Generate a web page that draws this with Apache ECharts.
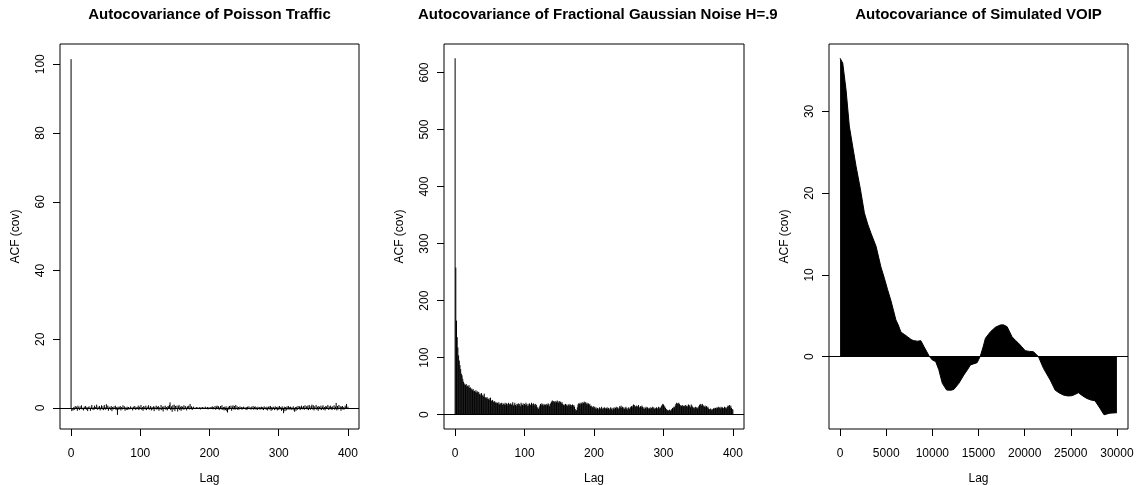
<!DOCTYPE html>
<html><head><meta charset="utf-8">
<script src="https://cdn.jsdelivr.net/npm/echarts@6/dist/echarts.min.js"></script>
<style>html,body{margin:0;padding:0;background:#fff}#c{width:1138px;height:485px}</style>
</head><body><div id="c"></div>
<script>
const titles = ['Autocovariance of Poisson Traffic', 'Autocovariance of Fractional Gaussian Noise H=.95', 'Autocovariance of Simulated VOIP'];
const xName = 'Lag';
const yName = 'ACF (cov)';

// Panel 1: Poisson traffic autocovariance, lags 0..400
const poissonAcf = [101.5,
-0.9,-0.4,-0.7,0.3,-0.5,0.6,-0.2,0.4,-0.8,0.7,0.2,-0.6,0.5,-0.3,0.8,-0.4,0.1,-0.7,0.4,-0.2,
0.6,-0.5,0.3,-0.9,0.2,0.5,-0.3,-0.8,0.4,0.9,-0.4,0.2,-0.6,0.7,0.3,-0.2,1.0,-0.5,0.4,-0.3,
0.6,-0.7,0.2,0.8,-0.4,0.5,-0.6,0.9,0.3,-0.5,1.1,-0.3,0.7,-0.8,0.4,0.2,-0.5,0.6,-0.9,0.3,
-0.4,0.5,-0.2,0.7,-0.6,0.3,-2.0,0.4,-0.5,0.2,0.6,-0.7,0.3,-0.4,0.8,-0.3,0.5,-0.8,0.2,-0.5,
0.4,-0.6,0.3,0.1,-0.4,0.5,-0.3,0.2,-0.7,0.4,-0.2,0.6,-0.5,0.3,-0.4,0.2,0.7,-0.6,0.4,-0.3,
0.9,-0.5,0.3,-0.8,0.6,0.2,-0.4,0.7,-0.6,0.4,-0.3,0.8,-0.5,0.2,0.6,-0.7,0.3,-0.4,0.5,-0.9,
0.4,-0.3,0.7,-0.5,0.3,0.6,-0.8,0.2,-0.4,0.9,-0.6,0.4,-1.0,0.5,-0.3,0.7,-0.5,0.3,-0.7,0.6,
0.4,0.9,1.65,-0.6,0.5,-1.1,0.8,-0.4,1.0,-0.9,0.6,-0.3,0.7,-1.0,0.5,0.9,-0.6,0.4,-0.8,0.6,
0.3,-0.5,0.8,-0.4,0.6,0.2,-0.7,0.5,0.3,0.7,-0.4,1.2,-0.3,0.5,-0.6,0.2,0.4,-0.3,0.1,-0.2,
0.3,-0.2,0.2,-0.3,0.1,0.3,-0.4,0.2,-0.1,0.3,-0.3,0.2,-0.2,0.4,-0.3,0.1,0.3,-0.4,0.2,-0.2,
0.3,-0.3,0.2,0.5,-0.4,0.3,-0.2,0.6,-0.5,0.4,0.7,-0.3,0.5,-0.6,0.2,0.6,-0.4,0.8,-0.5,0.3,
-0.7,0.4,-0.6,0.5,-0.9,-1.3,0.4,-0.5,0.6,-0.3,0.7,-0.8,0.4,0.8,-0.4,0.6,-0.5,0.9,-0.3,0.5,
-0.6,0.3,-0.4,0.5,-0.2,0.3,-0.5,0.2,0.4,-0.3,0.2,-0.4,0.3,-0.6,0.4,-0.2,0.5,-0.3,0.2,-0.5,
0.4,-0.3,0.6,-0.5,0.3,0.5,-0.4,0.2,-0.6,0.4,-0.3,0.3,-0.5,0.2,0.4,-0.4,0.3,-0.6,0.5,-0.3,
0.2,-0.5,0.4,-0.7,0.3,0.5,-0.4,0.6,-0.8,0.3,-0.5,0.4,0.2,-0.6,0.5,-0.4,0.3,-0.7,0.4,-0.5,
0.6,-0.4,0.3,-0.8,0.5,-0.6,-1.5,0.4,-0.9,0.3,-0.7,0.5,-0.4,0.6,-0.5,0.3,0.4,-0.6,0.2,-0.4,
0.5,-0.7,-1.1,0.3,-0.8,0.4,-0.5,0.6,-0.3,0.5,-0.6,0.4,0.7,-0.4,0.3,0.6,-0.5,0.8,-0.3,0.5,
-0.4,0.7,-0.6,0.9,0.4,-0.5,0.6,1.0,-0.4,0.8,-0.7,0.5,-0.3,0.9,-0.5,0.4,-0.8,0.6,0.3,-0.4,
0.7,-0.6,0.4,0.8,-0.5,0.3,-0.7,0.6,0.4,-0.3,0.9,-0.5,0.5,-0.4,0.7,0.3,-0.6,0.5,-0.3,0.8,
-0.5,0.4,1.5,-0.7,0.6,-0.4,0.9,-0.3,0.5,-0.8,0.4,0.6,-0.5,0.3,-0.4,0.7,0.2,1.2,-0.3,0.4];

// Panel 2: fractional Gaussian noise autocovariance, lags 0..400
const fgnAcf = [
625,258,165,136,118,104,95,87,80,72,
69,63,58,55,53,52,54,50,51,49,
52,47,48,44,46,43,45,41,42,40,
43,39,41,38,40,36,37,34,38,33,
35,32,37,31,30,29,31,28,27,29,
26,30,25,24,26,23,22,24,21,22,
20,21,19,22,18,20,19,21,17,20,
19,18,21,17,20,19,16,21,18,19,
20,17,19,22,16,18,21,17,15,19,
18,20,16,19,15,21,18,17,20,16,
19,17,21,18,15,19,16,20,18,17,
21,19,16,20,18,15,19,17,14,12,
10,13,16,19,17,20,18,16,19,17,
18,16,19,17,20,18,15,19,21,23,
25,22,24,23,21,24,22,25,23,21,
24,22,23,20,22,19,17,18,16,19,
17,18,15,17,19,16,18,17,16,18,
15,17,14,10,7,8,13,18,20,19,
21,18,20,22,19,21,23,20,22,19,
21,18,20,17,19,15,16,14,13,15,
12,14,11,13,10,12,9,11,13,10,
12,14,11,9,12,13,10,12,11,13,
10,12,9,11,13,10,12,8,11,13,
10,12,14,11,13,10,12,15,13,16,
12,14,11,13,10,12,14,11,9,12,
13,10,12,14,15,13,16,18,17,15,
14,16,13,15,17,14,12,15,13,16,
14,11,13,10,12,14,11,13,10,12,
11,13,10,12,14,11,13,10,12,11,
13,10,12,14,11,13,12,15,17,19,
18,16,14,12,10,9,8,7,8,9,
7,8,10,12,11,14,13,16,19,21,
20,18,21,19,17,16,15,17,16,15,
16,14,17,15,16,14,18,17,15,13,
18,16,14,12,13,11,14,12,13,11,
13,15,17,19,18,16,19,17,15,14,
16,13,15,12,14,11,10,9,11,8,
10,9,11,12,10,12,11,13,12,14,
12,13,11,14,12,13,11,12,14,12,
13,11,14,16,15,17,13,16,12,10,
9];

// Panel 3: simulated VOIP autocovariance (lag, value)
const voipLags = [0,290,650,1000,1400,1730,2200,2630,3000,3350,
3900,4420,4800,5150,5500,5800,6050,6300,6600,7000,
7300,7700,8000,8400,8750,9100,9400,9650,10000,10360,
10700,11080,11550,12000,12330,12870,13410,13800,14130,14850,
15200,15500,15750,16300,16830,17370,17700,18100,18630,19000,
19350,19700,20070,20500,20960,21500,22040,22770,23300,23700,
24200,24700,25110,25500,25820,26300,26730,27200,27620,28160,
28600,29240,30000];
const voipAcf = [36.5,35.9,32.6,28.2,25.5,23.3,20.5,17.6,16.2,15.1,
13.5,11.0,9.6,8.2,6.9,5.6,4.5,3.9,3.0,2.7,
2.45,2.1,1.96,1.9,1.96,1.22,0.6,0.08,-0.4,-0.6,
-1.6,-3.26,-4.08,-4.1,-4.0,-3.26,-2.24,-1.6,-1.0,-0.73,
0.08,1.2,2.25,3.06,3.6,3.88,3.9,3.67,2.45,2.0,
1.64,1.2,0.74,0.65,0.61,0.0,-1.42,-2.85,-4.08,-4.4,
-4.69,-4.8,-4.77,-4.6,-4.4,-4.8,-5.1,-5.3,-5.38,-6.3,
-7.1,-6.9,-6.85];

const xTicks1 = [0,100,200,300,400];
const yTicks1 = [0,20,40,60,80,100];
const xTicks2 = [0,100,200,300,400];
const yTicks2 = [0,100,200,300,400,500,600];
const xTicks3 = [0,5000,10000,15000,20000,25000,30000];
const yTicks3 = [0,10,20,30];

const FONT = 'Liberation Sans, Arial, Helvetica, sans-serif';
const plain = v => String(v);

function xAxisDef(idx, min, max, ticks) {
  return {
    type: 'value', gridIndex: idx, min: min, max: max,
    name: xName, nameLocation: 'middle', nameGap: 44,
    nameTextStyle: {color: '#000', fontSize: 12, fontFamily: FONT},
    axisLine: {show: false, onZero: false},
    axisTick: {show: true, inside: false, length: 7, customValues: ticks, lineStyle: {color: '#000', width: 1}},
    axisLabel: {show: true, customValues: ticks, formatter: plain, margin: 19, color: '#000', fontSize: 12, fontFamily: FONT},
    splitLine: {show: false}
  };
}
function yAxisDef(idx, min, max, ticks) {
  return {
    type: 'value', gridIndex: idx, min: min, max: max,
    name: yName, nameLocation: 'middle', nameGap: 38, nameRotate: 90,
    nameTextStyle: {color: '#000', fontSize: 12, fontFamily: FONT},
    axisLine: {show: false, onZero: false},
    axisTick: {show: true, inside: false, length: 7, customValues: ticks, lineStyle: {color: '#000', width: 1}},
    axisLabel: {show: true, customValues: ticks, formatter: plain, rotate: 90, margin: 13, color: '#000', fontSize: 12, fontFamily: FONT},
    splitLine: {show: false}
  };
}

function renderH(params, api) {
  const x = api.value(0), y = api.value(1);
  const p0 = api.coord([x, 0]);
  const p1 = api.coord([x, y]);
  return {type: 'line', shape: {x1: p0[0], y1: p0[1], x2: p1[0], y2: p1[1]}, style: {stroke: '#000', lineWidth: 1}};
}

const zeroLine = {
  silent: true, symbol: ['none', 'none'], label: {show: false}, animation: false,
  lineStyle: {color: '#000', width: 1, type: 'solid'},
  emphasis: {disabled: true},
  data: [{yAxis: 0}]
};

const titleStyle = {fontSize: 15, fontWeight: 'bold', color: '#000', fontFamily: FONT};
const gridBase = {top: 44, height: 385, show: true, borderColor: '#000', borderWidth: 1, backgroundColor: 'transparent', containLabel: false, outerBoundsMode: 'none'};

const chart = echarts.init(document.getElementById('c'), null, {renderer: 'canvas'});
chart.setOption({
  animation: false,
  backgroundColor: '#fff',
  title: [
    {text: titles[0], left: 209.5, textAlign: 'center', top: 7, padding: 0, textStyle: titleStyle},
    {text: titles[1], left: 418, textAlign: 'left', top: 7, padding: 0, textStyle: Object.assign({}, titleStyle, {width: 363, overflow: 'truncate', ellipsis: ''})},
    {text: titles[2], left: 978.5, textAlign: 'center', top: 7, padding: 0, textStyle: titleStyle}
  ],
  grid: [
    Object.assign({left: 60, width: 299}, gridBase),
    Object.assign({left: 444, width: 300}, gridBase),
    Object.assign({left: 829, width: 299}, gridBase)
  ],
  xAxis: [
    xAxisDef(0, -16, 416, xTicks1),
    xAxisDef(1, -16, 416, xTicks2),
    xAxisDef(2, -1200, 31200, xTicks3)
  ],
  yAxis: [
    yAxisDef(0, -6.1, 105.9, yTicks1),
    yAxisDef(1, -25, 650, yTicks2),
    yAxisDef(2, -8.84, 38.24, yTicks3)
  ],
  series: [
    {type: 'custom', xAxisIndex: 0, yAxisIndex: 0, renderItem: renderH,
     data: poissonAcf.map((v, i) => [i, v]), encode: {x: 0, y: 1}, silent: true, markLine: zeroLine},
    {type: 'custom', xAxisIndex: 1, yAxisIndex: 1, renderItem: renderH,
     data: fgnAcf.map((v, i) => [i, v]), encode: {x: 0, y: 1}, silent: true, markLine: zeroLine},
    {type: 'line', xAxisIndex: 2, yAxisIndex: 2, symbol: 'none', silent: true,
     data: voipLags.map((l, i) => [l, voipAcf[i]]),
     lineStyle: {color: '#000', width: 1}, itemStyle: {color: '#000'},
     areaStyle: {color: '#000', opacity: 1, origin: 0},
     markLine: zeroLine}
  ]
});
</script>
</body></html>
